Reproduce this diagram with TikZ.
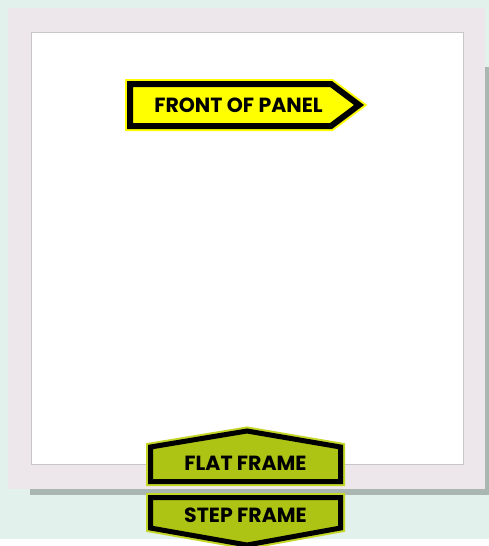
\documentclass[tikz,border=0pt]{standalone}
\usepackage{fontspec}
\setmainfont{Poppins}
\usepackage{tikz}
\definecolor{mint}{RGB}{226,241,235}
\definecolor{framegray}{RGB}{237,231,235}
\definecolor{shadowgray}{RGB}{169,182,177}
\definecolor{signyellow}{HTML}{FFFF00}
\definecolor{signgreen}{RGB}{173,196,20}
\definecolor{signgreenedge}{RGB}{196,214,40}
\tikzstyle{signtext} = [font=\fontsize{20.5}{20.5}\selectfont\bfseries,
  text=black, inner sep=0pt]
\tikzstyle{yellowsign} = [draw=black, line width=6pt, fill=signyellow,
  preaction={draw=signyellow, line width=10pt}]
\tikzstyle{greensign} = [draw=black, line width=5pt, fill=signgreen,
  preaction={draw=signgreenedge, line width=9pt}]

\begin{document}
\begin{tikzpicture}[x=1pt, y=-1pt]
    \clip (0,0) rectangle (489,546);
    \fill[mint] (0,0) rectangle (489,539);
    % frame with its shadow
    \fill[shadowgray] (30,67) rectangle (489,495);
    \fill[framegray] (8,8) rectangle (485,489);
    \filldraw[fill=white, draw=black!22, line width=1pt] (31,32) rectangle (463,464);
    % signs
    \draw[yellowsign] (130,84) -- (331,84) -- (359,105) -- (331,126)
        -- (130,126) -- cycle;
    \node[signtext] (front) at (238.5,105) {FRONT OF PANEL};
    \draw[greensign] (150.5,481.5) -- (150.5,447) -- (247,431) -- (340.5,447)
        -- (340.5,481.5) -- cycle;
    \node[signtext] (flat) at (245.5,463) {FLAT FRAME};
    \draw[greensign] (150.5,497.5) -- (340.5,497.5) -- (340.5,528)
        -- (247,545) -- (150.5,528) -- cycle;
    \node[signtext] (step) at (245.5,515.5) {STEP FRAME};
\end{tikzpicture}
\end{document}
